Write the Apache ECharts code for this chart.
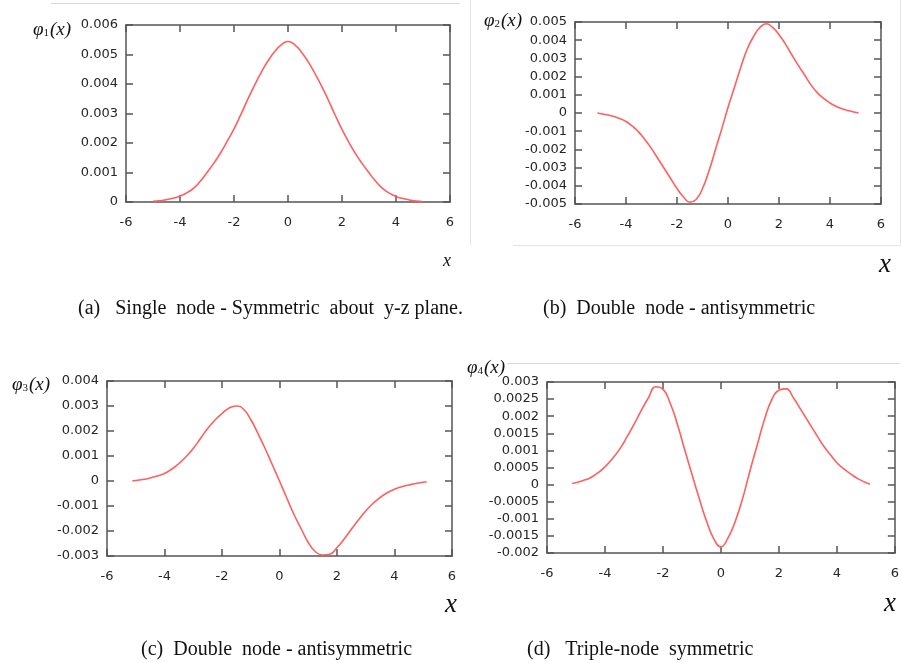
<!DOCTYPE html>
<html>
<head>
<meta charset="utf-8">
<script src="https://cdn.jsdelivr.net/npm/echarts@6/dist/echarts.min.js"></script>
<style>html,body{margin:0;padding:0;background:#fff}#c{width:902px;height:663px}</style>
</head>
<body>
<div id="c"></div>
<script>
// ---- data ----
const xA = [-5,-4.75,-4.5,-4.25,-4,-3.75,-3.5,-3.25,-3,-2.75,-2.5,-2.25,-2,-1.75,-1.5,-1.25,-1,-0.75,-0.5,-0.25,0,
            0.25,0.5,0.75,1,1.25,1.5,1.75,2,2.25,2.5,2.75,3,3.25,3.5,3.75,4,4.25,4.5,4.75,5];
const phi1 = [0.00002,0.00004,0.00008,0.00013,0.0002,0.00031,0.00046,0.0007,0.001,0.00131,0.00166,0.00206,0.00248,0.00296,0.00346,0.00394,0.00438,0.00477,0.00509,0.00533,0.00544,
              0.00533,0.00508,0.00475,0.00435,0.00392,0.00344,0.00294,0.00246,0.00203,0.00164,0.0013,0.00099,0.0007,0.00046,0.0003,0.00019,0.00012,0.00007,0.00003,0.00001];

const xB = [-5.12,-4.75,-4.5,-4.25,-4,-3.75,-3.5,-3.25,-3,-2.75,-2.5,-2.25,-2,-1.75,-1.5,-1.25,-1,-0.75,-0.5,-0.25,0,
            0.25,0.5,0.75,1,1.25,1.5,1.75,2,2.25,2.5,2.75,3,3.25,3.5,3.75,4,4.25,4.5,4.75,5.12];
const phi2 = [0,-0.0001,-0.00018,-0.0003,-0.00047,-0.00072,-0.00105,-0.00148,-0.00196,-0.0025,-0.00305,-0.0036,-0.00415,-0.0046,-0.0049,-0.00475,-0.00415,-0.0032,-0.00205,-0.0009,0.0003,
              0.0014,0.0025,0.0035,0.0042,0.0047,0.0049,0.0047,0.0043,0.0038,0.0032,0.00263,0.0021,0.00155,0.00112,0.0008,0.00055,0.00036,0.00022,0.00012,0];

const xC = [-5.12,-4.75,-4.5,-4.25,-4,-3.75,-3.5,-3.25,-3,-2.75,-2.5,-2.25,-2,-1.75,-1.5,-1.25,-1,-0.75,-0.5,-0.25,0,
            0.25,0.5,0.75,1,1.25,1.5,1.75,2,2.25,2.5,2.75,3,3.25,3.5,3.75,4,4.25,4.5,4.75,5.12];
const phi3 = [0,0.00006,0.00012,0.0002,0.0003,0.00047,0.0007,0.00097,0.0013,0.0017,0.0021,0.00243,0.0027,0.00292,0.003,0.00287,0.00246,0.0019,0.0013,0.00065,0,
              -0.00067,-0.00133,-0.0019,-0.00246,-0.00283,-0.00296,-0.00293,-0.00266,-0.00232,-0.00193,-0.00155,-0.0012,-0.0009,-0.00066,-0.00047,-0.00033,-0.00023,-0.00016,-0.0001,-0.00003];

const xD = [-5.13,-4.75,-4.5,-4.25,-4,-3.75,-3.5,-3.25,-3,-2.75,-2.5,-2.25,-2,-1.75,-1.5,-1.25,-1,-0.75,-0.5,-0.25,0,
            0.25,0.5,0.75,1,1.25,1.5,1.75,2,2.25,2.5,2.75,3,3.25,3.5,3.75,4,4.25,4.5,4.75,5.14];
const phi4 = [0.00003,0.00012,0.0002,0.00034,0.00052,0.00075,0.00103,0.00138,0.00176,0.00216,0.00254,0.00286,0.00279,0.00238,0.00176,0.00102,0.0003,-0.0004,-0.00106,-0.00158,-0.00182,
              -0.00155,-0.00106,-0.0004,0.0004,0.00115,0.0019,0.00248,0.00276,0.0028,0.00254,0.0022,0.00186,0.00152,0.00118,0.0009,0.00064,0.00045,0.0003,0.00016,0.00001];

const xTicks = {min:-6, max:6, interval:2};
const yRanges = [
  {min:0, max:0.006, interval:0.001},
  {min:-0.005, max:0.005, interval:0.001},
  {min:-0.003, max:0.004, interval:0.001},
  {min:-0.002, max:0.003, interval:0.0005}
];
const ySubs = ['1','2','3','4'];
const captions = [
  '(a)   Single  node - Symmetric  about  y-z plane.',
  '(b)  Double  node - antisymmetric',
  '(c)  Double  node - antisymmetric',
  '(d)   Triple-node  symmetric'
];

// ---- layout ----
const grids = [
  {left:126, right:452, top:25, bottom:461},
  {left:575, right:21, top:22, bottom:459},
  {left:107, right:450, top:381, bottom:107},
  {left:547, right:5, top:382, bottom:110}
];
const frameColor = '#555';
const labelColor = '#262626';
function fmt(v){ let s = String(parseFloat((+v).toFixed(5))); if (s === '-0') s = '0'; return s; }

const xAxis = [], yAxis = [], series = [];
const xs = [xA, xB, xC, xD];
const ys = [phi1, phi2, phi3, phi4];
for (let i = 0; i < 4; i++) {
  const common = {gridIndex:i, type:'value', splitLine:{show:false},
    axisLine:{show:true, onZero:false, lineStyle:{color:frameColor, width:1.5}},
    axisTick:{show:true, inside:true, length:7, lineStyle:{color:frameColor, width:1.5}}};
  xAxis.push(Object.assign({}, common, xTicks, {position:'bottom',
    axisLabel:{color:labelColor, fontFamily:'DejaVu Sans', fontSize:13, margin:14, formatter:fmt}}));
  xAxis.push(Object.assign({}, common, xTicks, {position:'top', axisLabel:{show:false}}));
  yAxis.push(Object.assign({}, common, yRanges[i], {position:'left',
    axisLabel:{color:labelColor, fontFamily:'DejaVu Sans', fontSize:13, margin:8, formatter:fmt}}));
  yAxis.push(Object.assign({}, common, yRanges[i], {position:'right', axisLabel:{show:false}}));
  series.push({type:'line', xAxisIndex:2*i, yAxisIndex:2*i, showSymbol:false, smooth:0.5,
    lineStyle:{color:'#ff5f5f', width:1.6}, data: xs[i].map((x,k)=>[x, ys[i][k]])});
}

const serif = '"Liberation Serif","DejaVu Serif",serif';
function yName(left, top, sub){
  return {type:'text', left:left, top:top, style:{
    text:'{p|φ}{s|' + sub + '}{p|(x)}',
    rich:{p:{font:'italic 19px '+serif, fill:'#111'}, s:{font:'11px '+serif, fill:'#111', padding:[8,1,0,0]}}
  }};
}
const graphic = [
  // faint page-edge lines of the original screenshot
  {type:'line', shape:{x1:51,y1:3.5,x2:460,y2:3.5}, style:{stroke:'#d8d8d8', lineWidth:1}},
  {type:'line', shape:{x1:470.5,y1:0,x2:470.5,y2:245}, style:{stroke:'#e4e4e4', lineWidth:1}},
  {type:'line', shape:{x1:513,y1:245.5,x2:900,y2:245.5}, style:{stroke:'#e4e4e4', lineWidth:1}},
  {type:'line', shape:{x1:900.5,y1:0,x2:900.5,y2:245}, style:{stroke:'#e4e4e4', lineWidth:1}},
  {type:'line', shape:{x1:507,y1:363.5,x2:900,y2:363.5}, style:{stroke:'#d8d8d8', lineWidth:1}},
  // y-axis names
  yName(33, 20, ySubs[0]),
  yName(484, 11, ySubs[1]),
  yName(12, 375, ySubs[2]),
  yName(467, 358, ySubs[3]),
  // x-axis names
  {type:'text', left:443, top:252, style:{text:'x', font:'italic 18px '+serif, fill:'#111'}},
  {type:'text', left:879, top:251, style:{text:'x', font:'italic 27px '+serif, fill:'#111'}},
  {type:'text', left:445, top:591, style:{text:'x', font:'italic 27px '+serif, fill:'#111'}},
  {type:'text', left:884, top:590, style:{text:'x', font:'italic 27px '+serif, fill:'#111'}},
  // captions
  {type:'text', left:78, top:299, style:{text:captions[0], font:'20px '+serif, fill:'#111'}},
  {type:'text', left:543, top:299, style:{text:captions[1], font:'20px '+serif, fill:'#111'}},
  {type:'text', left:141, top:640, style:{text:captions[2], font:'20px '+serif, fill:'#111'}},
  {type:'text', left:527, top:640, style:{text:captions[3], font:'20px '+serif, fill:'#111'}}
];

const chart = echarts.init(document.getElementById('c'), null, {renderer:'canvas'});
chart.setOption({
  animation:false,
  backgroundColor:'#fff',
  grid: grids,
  xAxis, yAxis, series, graphic
});
</script>
</body>
</html>
